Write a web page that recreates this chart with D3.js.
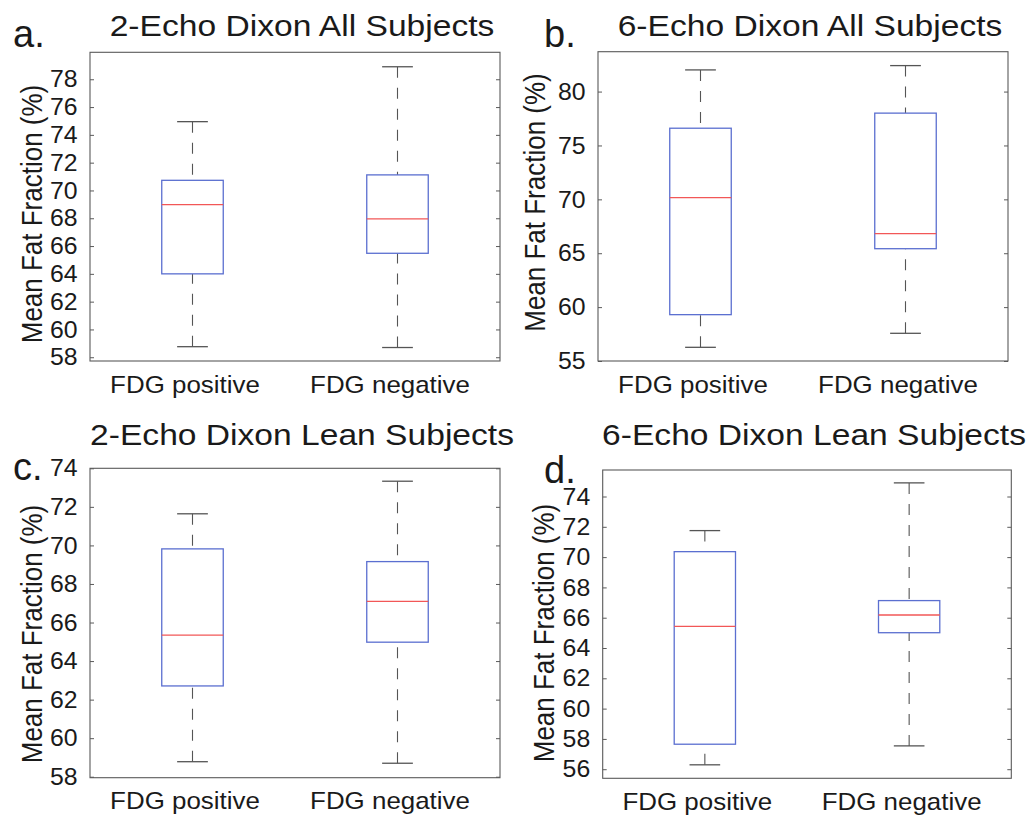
<!DOCTYPE html>
<html>
<head>
<meta charset="utf-8">
<script src="https://cdn.jsdelivr.net/npm/d3@7"></script>
<style>
  html, body { margin: 0; padding: 0; background: #fff; }
  svg { display: block; }
  text { font-family: "Liberation Sans", Arial, Helvetica, sans-serif; fill: #1a1a1a; }
</style>
</head>
<body>
<svg id="chart" width="1034" height="817"></svg>
<script>
// ---------------- DATA ----------------
const categories = ["FDG positive", "FDG negative"];
const panelLetters = ["a.", "b.", "c.", "d."];
const panelTitles = [
  "2-Echo Dixon All Subjects",
  "6-Echo Dixon All Subjects",
  "2-Echo Dixon Lean Subjects",
  "6-Echo Dixon Lean Subjects"
];
const yAxisLabel = "Mean Fat Fraction (%)";

// [lower whisker, Q1, median, Q3, upper whisker] per category
const statsA = [[58.76, 64.0, 68.98, 70.73, 74.95], [58.7, 65.48, 67.95, 71.12, 78.9]];
const statsB = [[56.27, 59.3, 70.16, 76.6, 82.01], [57.57, 65.42, 66.82, 78.0, 82.41]];
const statsC = [[58.78, 62.71, 65.35, 69.82, 71.64], [58.7, 64.98, 67.1, 69.16, 73.33]];
const statsD = [[56.29, 57.65, 65.43, 70.36, 71.75], [57.54, 65.01, 66.18, 67.13, 74.9]];

const yDomainA = [57.73, 79.94];
const yDomainB = [55, 83.7];
const yDomainC = [57.95, 74.0];
const yDomainD = [55.4, 75.75];

const yTicksA = [58, 60, 62, 64, 66, 68, 70, 72, 74, 76, 78];
const yTicksB = [55, 60, 65, 70, 75, 80];
const yTicksC = [58, 60, 62, 64, 66, 68, 70, 72, 74];
const yTicksD = [56, 58, 60, 62, 64, 66, 68, 70, 72, 74];

// ---------------- LAYOUT ----------------
const panels = [
  { stats: statsA, dom: yDomainA, ticks: yTicksA, box: [90, 500, 52.3, 361],
    titleY: 36, letter: [13, 47], ylab: [41.7, 214] },
  { stats: statsB, dom: yDomainB, ticks: yTicksB, box: [598, 1008, 51.7, 361],
    titleY: 36, letter: [544, 47], ylab: [545, 202.5] },
  { stats: statsC, dom: yDomainC, ticks: yTicksC, box: [90, 500, 468.3, 777.7],
    titleY: 445, letter: [13, 480], ylab: [41.7, 634] },
  { stats: statsD, dom: yDomainD, ticks: yTicksD, box: [602.7, 1011.3, 470, 778.3],
    titleY: 445, letter: [544, 483], ylab: [553.7, 633] }
];

const axisColor = "#5a5a5a";
const boxColor = "#5b6fd0";
const medColor = "#f25757";
const whiskColor = "#555";

const svg = d3.select("#chart");
svg.append("rect").attr("width", 1034).attr("height", 817).attr("fill", "#fff");

panels.forEach((p, i) => {
  const [L, R, T, B] = p.box;
  const g = svg.append("g");
  const x = d3.scaleLinear().domain([0.5, 2.5]).range([L, R]);
  const y = d3.scaleLinear().domain(p.dom).range([B, T]);
  const unit = x(2) - x(1);
  const boxW = 0.3 * unit;
  const capW = 0.15 * unit;

  // Y axis (left and right) with inward ticks
  const yAxisL = d3.axisLeft(y).tickValues(p.ticks).tickSize(-4).tickFormat("");
  const gl = g.append("g").attr("transform", `translate(${L},0)`).call(yAxisL);
  const yAxisR = d3.axisRight(y).tickValues(p.ticks).tickSize(-4).tickFormat("");
  const gr = g.append("g").attr("transform", `translate(${R},0)`).call(yAxisR);
  [gl, gr].forEach(a => {
    a.select(".domain").remove();
    a.selectAll("line").attr("stroke", axisColor).attr("stroke-width", 1);
  });

  // frame
  g.append("rect").attr("x", L).attr("y", T).attr("width", R - L).attr("height", B - T)
    .attr("fill", "none").attr("stroke", axisColor).attr("stroke-width", 1.1);

  // tick labels
  g.selectAll("text.ytick").data(p.ticks).join("text")
    .attr("class", "ytick")
    .attr("transform", d => `translate(${L - 12.5},${y(d)}) scale(1.08,1)`)
    .attr("text-anchor", "end")
    .attr("dominant-baseline", "central")
    .attr("font-size", 23)
    .text(d => d);

  // x category labels
  g.selectAll("text.xcat").data(categories).join("text")
    .attr("class", "xcat")
    .attr("transform", (d, j) => `translate(${x(j + 1) - 7.5},${B + 31.5}) scale(1.08,1)`)
    .attr("text-anchor", "middle")
    .attr("font-size", 24)
    .text(d => d);

  // boxes
  p.stats.forEach((s, j) => {
    const cx = x(j + 1);
    const [lo, q1, med, q3, hi] = s;
    g.append("line").attr("x1", cx).attr("x2", cx).attr("y1", y(hi)).attr("y2", y(q3))
      .attr("stroke", whiskColor).attr("stroke-width", 1.1).attr("stroke-dasharray", "11,10");
    g.append("line").attr("x1", cx).attr("x2", cx).attr("y1", y(lo)).attr("y2", y(q1))
      .attr("stroke", whiskColor).attr("stroke-width", 1.1).attr("stroke-dasharray", "11,10");
    [lo, hi].forEach(v => {
      g.append("line").attr("x1", cx - capW / 2).attr("x2", cx + capW / 2)
        .attr("y1", y(v)).attr("y2", y(v))
        .attr("stroke", whiskColor).attr("stroke-width", 1.3);
    });
    g.append("rect").attr("x", cx - boxW / 2).attr("y", y(q3))
      .attr("width", boxW).attr("height", y(q1) - y(q3))
      .attr("fill", "#fff").attr("stroke", boxColor).attr("stroke-width", 1.3);
    g.append("line").attr("x1", cx - boxW / 2).attr("x2", cx + boxW / 2)
      .attr("y1", y(med)).attr("y2", y(med))
      .attr("stroke", medColor).attr("stroke-width", 1.3);
  });

  // title
  g.append("text")
    .attr("transform", `translate(${(L + R) / 2 + 7},${p.titleY}) scale(1.12,1)`)
    .attr("text-anchor", "middle")
    .attr("font-size", 30)
    .text(panelTitles[i]);

  // panel letter
  g.append("text")
    .attr("x", p.letter[0]).attr("y", p.letter[1])
    .attr("text-anchor", "start")
    .attr("font-size", 38)
    .text(panelLetters[i]);

  // y label
  g.append("text")
    .attr("transform", `translate(${p.ylab[0]},${p.ylab[1]}) scale(1.12,1) rotate(-90)`)
    .attr("text-anchor", "middle")
    .attr("font-size", 26)
    .text(yAxisLabel);
});
</script>
</body>
</html>
